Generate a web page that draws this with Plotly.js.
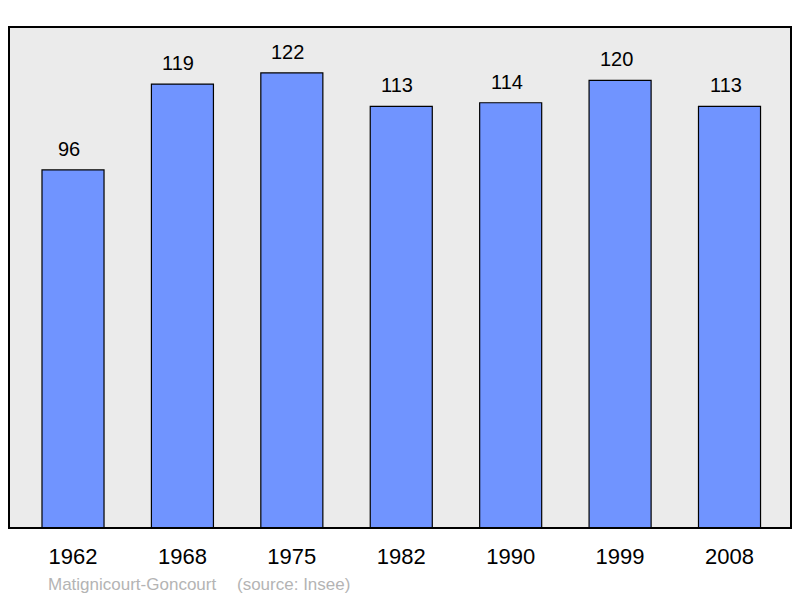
<!DOCTYPE html>
<html>
<head>
<meta charset="utf-8">
<script src="https://cdn.plot.ly/plotly-3.0.1.min.js"></script>
<style>
  html, body { margin: 0; padding: 0; background: #fff; }
  #chart { width: 800px; height: 598px; }
</style>
</head>
<body>
<div id="chart"></div>
<script>
  // Population by census year.
  const years = ["1962", "1968", "1975", "1982", "1990", "1999", "2008"];
  const population = [96, 119, 122, 113, 114, 120, 113];
  const commune = "Matignicourt-Goncourt";
  const source = "(source: Insee)";

  const FONT = "Liberation Sans, Arial, sans-serif";
  const BAR = "#7094ff";

  const bars = {
    type: "bar",
    x: years,
    y: population,
    width: 0.567,
    marker: { color: BAR, line: { color: "#000", width: 1.2 } },
    hoverinfo: "x+y",
  };

  // value labels sit a little above each bar; category axes want the index here
  const valueLabels = years.map(function (year, i) {
    return {
      xref: "x",
      yref: "y",
      x: i,
      y: population[i],
      text: String(population[i]),
      showarrow: false,
      yanchor: "bottom",
      yshift: 8,
      xshift: -4,
      font: { family: FONT, size: 20, color: "#000" },
    };
  });

  const footer = [
    { text: commune, x: (46 - 9) / 782 },
    { text: source, x: (235 - 9) / 782 },
  ].map(function (item) {
    return {
      text: item.text,
      xref: "paper",
      yref: "paper",
      x: item.x,
      y: -(584 - 528) / 501,
      xanchor: "left",
      yanchor: "middle",
      showarrow: false,
      font: { family: FONT, size: 17, color: "#b4b4b4" },
    };
  });

  const layout = {
    width: 800,
    height: 598,
    margin: { l: 9, r: 9, t: 27, b: 70 },
    paper_bgcolor: "#fff",
    plot_bgcolor: "#ebebeb",
    showlegend: false,
    font: { family: FONT, color: "#000" },
    xaxis: {
      type: "category",
      range: [-0.585, 6.562],
      showgrid: false,
      zeroline: false,
      showline: false,
      ticks: "",
      ticklabelstandoff: 13,
      tickfont: { family: FONT, size: 22, color: "#000" },
      fixedrange: true,
    },
    yaxis: {
      range: [0, 134.3],
      showgrid: false,
      zeroline: false,
      showline: false,
      showticklabels: false,
      ticks: "",
      fixedrange: true,
    },
    shapes: [
      {
        type: "rect",
        xref: "paper",
        yref: "paper",
        x0: 0,
        x1: 1,
        y0: 0,
        y1: 1,
        layer: "above",
        line: { color: "#000", width: 2 },
      },
    ],
    annotations: valueLabels.concat(footer),
  };

  Plotly.newPlot("chart", [bars], layout, { displayModeBar: false, staticPlot: true });
</script>
</body>
</html>
